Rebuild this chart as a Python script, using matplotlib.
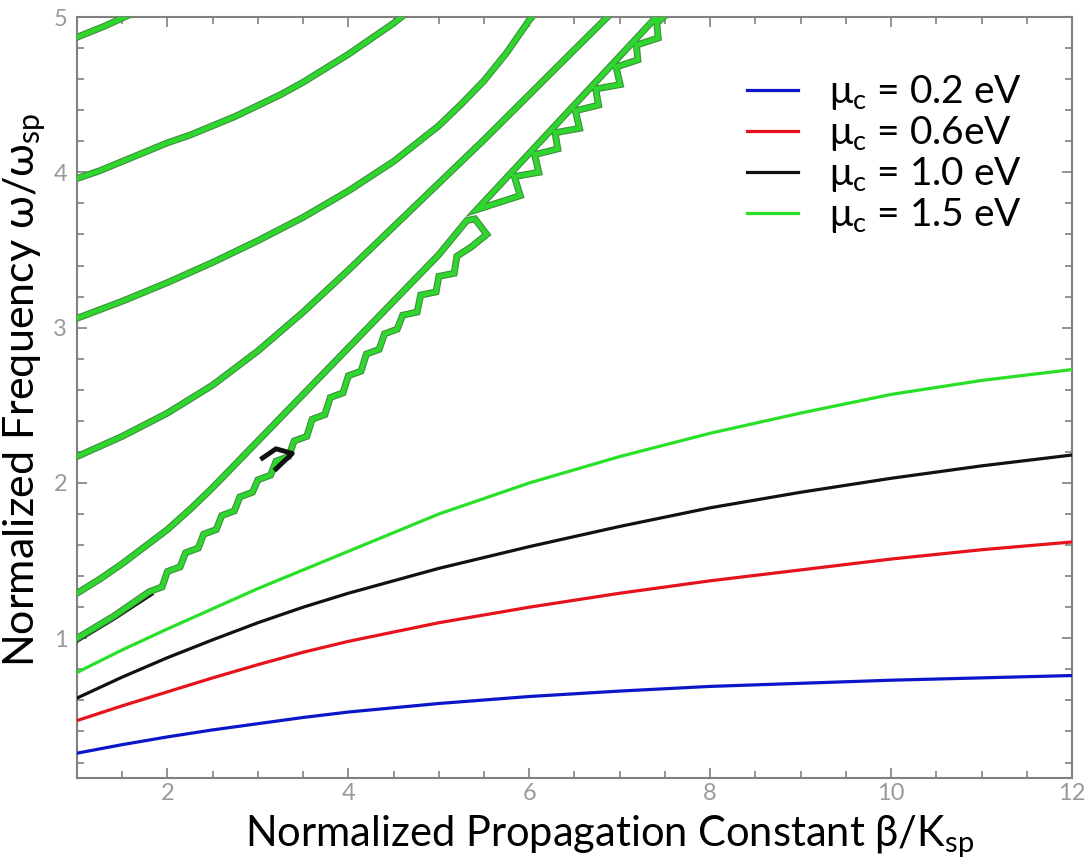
import numpy as np
import matplotlib
matplotlib.use("Agg")
import matplotlib.pyplot as plt
from matplotlib.ticker import MultipleLocator

plt.rcParams['font.family'] = ['Lato', 'DejaVu Sans']
plt.rcParams['mathtext.fontset'] = 'custom'
plt.rcParams['mathtext.rm'] = 'Lato'

#%% data

# fundamental modes, one per chemical potential
beta = [1, 1.5, 2, 2.5, 3, 3.5, 4, 5, 6, 7, 8, 9, 10, 11, 12]
w_02 = [0.26, 0.315, 0.365, 0.41, 0.45, 0.49, 0.525, 0.58, 0.625, 0.66, 0.69, 0.71, 0.73, 0.745, 0.76]
w_06 = [0.47, 0.565, 0.655, 0.745, 0.83, 0.91, 0.98, 1.10, 1.20, 1.29, 1.37, 1.44, 1.51, 1.57, 1.62]
w_10 = [0.615, 0.75, 0.875, 0.99, 1.10, 1.20, 1.29, 1.45, 1.59, 1.72, 1.84, 1.94, 2.03, 2.11, 2.18]
w_15 = [0.78, 0.925, 1.06, 1.19, 1.32, 1.44, 1.56, 1.80, 2.00, 2.17, 2.32, 2.45, 2.57, 2.66, 2.73]
labels = [r'$\mathregular{\mu_c}$ = 0.2 eV', r'$\mathregular{\mu_c}$ = 0.6eV',
          r'$\mathregular{\mu_c}$ = 1.0 eV', r'$\mathregular{\mu_c}$ = 1.5 eV']

# higher order modes (mu_c = 1.5 eV)
g1_x = [1, 1.3, 1.6]
g1_y = [4.87, 4.94, 5.02]
g2_x = [1, 1.25, 1.5, 1.75, 2, 2.25, 2.5, 2.75, 3, 3.25, 3.5, 3.75, 4, 4.25, 4.5, 4.65]
g2_y = [3.96, 4.01, 4.07, 4.13, 4.19, 4.24, 4.30, 4.36, 4.43, 4.50, 4.58, 4.67, 4.76, 4.86, 4.96, 5.03]
g3_x = [1, 1.5, 2, 2.5, 3, 3.5, 4, 4.5, 5, 5.25, 5.5, 5.75, 6, 6.1]
g3_y = [3.06, 3.17, 3.29, 3.42, 3.56, 3.71, 3.88, 4.07, 4.30, 4.44, 4.59, 4.77, 4.98, 5.05]
g4_x = [1, 1.5, 2, 2.5, 3, 3.5, 4, 4.5, 5, 5.5, 6, 6.5, 6.95]
g4_y = [2.17, 2.30, 2.45, 2.63, 2.85, 3.10, 3.37, 3.65, 3.93, 4.21, 4.50, 4.79, 5.05]

# noisy contour loop: jagged lower edge (from 1.0) and upper edge (from 1.29)
loop_x = [1.00, 1.40, 1.80, 1.94, 2.00, 2.14, 2.20, 2.34, 2.40, 2.54, 2.60, 2.74,
          2.80, 2.94, 3.00, 3.14, 3.20, 3.34, 3.40, 3.54, 3.60, 3.74, 3.80, 3.94,
          4.00, 4.14, 4.20, 4.34, 4.40, 4.54, 4.60, 4.76, 4.80, 4.97, 5.00, 5.17,
          5.20, 5.36, 5.53, 5.40, 5.31, 5.00, 4.50, 4.00, 3.50, 3.00, 2.75, 2.50,
          2.25, 2.00, 1.75, 1.50, 1.25, 1.00]
loop_y = [1.00, 1.14, 1.30, 1.33, 1.43, 1.46, 1.55, 1.58, 1.67, 1.70, 1.79, 1.82,
          1.91, 1.94, 2.02, 2.05, 2.14, 2.17, 2.27, 2.30, 2.41, 2.44, 2.55, 2.58,
          2.69, 2.72, 2.83, 2.86, 2.96, 2.99, 3.08, 3.10, 3.21, 3.23, 3.33, 3.35,
          3.46, 3.52, 3.60, 3.70, 3.69, 3.47, 3.17, 2.87, 2.57, 2.27, 2.12, 1.97,
          1.83, 1.70, 1.59, 1.48, 1.38, 1.29]

# saw-tooth band above the gap
band_x = [7.50, 5.42, 5.90, 5.835, 6.105, 6.06, 6.315, 6.285, 6.555, 6.51, 6.765,
          6.735, 7.005, 6.96, 7.20, 7.185, 7.425, 7.41, 7.54]
band_y = [5.06, 3.76, 3.85, 3.973, 4.00, 4.114, 4.151, 4.255, 4.283, 4.396, 4.433,
          4.537, 4.565, 4.678, 4.724, 4.819, 4.865, 4.96, 5.03]

# black pieces of the mu_c = 1.0 eV contour showing through
blk1_x = [1.00, 1.40, 1.82]
blk1_y = [0.985, 1.125, 1.285]
blk2_x = [3.05, 3.20, 3.38, 3.20]
blk2_y = [2.16, 2.22, 2.19, 2.09]

#%% figure

fig = plt.figure(figsize=(10.86, 8.60), dpi=100)
ax = fig.add_axes([0.0709, 0.0953, 0.9162, 0.8849])

cols = ['#0b16c9', '#e6121c', '#111111', '#27e027']
for w, c, lab in zip([w_02, w_06, w_10, w_15], cols, labels):
    ax.plot(beta, w, color=c, lw=2.3, label=lab, zorder=3)

ax.plot(blk1_x, blk1_y, color='#111111', lw=3.2, zorder=3)

edge, fill = '#3f8f3f', '#2ed62e'
for xs, ys in [(g1_x, g1_y), (g2_x, g2_y), (g3_x, g3_y), (g4_x, g4_y),
               (loop_x, loop_y), (band_x, band_y)]:
    ax.plot(xs, ys, color=edge, lw=5.0, solid_joinstyle='miter', zorder=4)
    ax.plot(xs, ys, color=fill, lw=3.4, solid_joinstyle='miter', zorder=5)

ax.plot(blk2_x, blk2_y, color='#111111', lw=3.5, zorder=6)

ax.set_xlim(1, 12)
ax.set_ylim(0.1, 5)
ax.xaxis.set_major_locator(MultipleLocator(2))
ax.xaxis.set_minor_locator(MultipleLocator(0.5))
ax.yaxis.set_major_locator(MultipleLocator(1))
ax.yaxis.set_minor_locator(MultipleLocator(0.2))
ax.tick_params(which='both', direction='in', top=True, right=True,
               color='#808080', labelcolor='#9a9a9a', labelsize=17, width=1.2)
ax.tick_params(which='major', length=7)
ax.tick_params(which='minor', length=5)
ax.tick_params(axis='y', pad=7)
for s in ax.spines.values():
    s.set_color('#808080')
    s.set_linewidth(1.5)

ax.set_xlabel(r'Normalized Propagation Constant β/K$_\mathregular{sp}$', fontsize=30)
ax.set_ylabel(r'Normalized Frequency ω/ω$_\mathregular{sp}$', fontsize=31)
ax.xaxis.set_label_coords(0.535, -0.046)
ax.yaxis.set_label_coords(-0.029, 0.51)

ax.legend(loc='upper right', bbox_to_anchor=(0.985, 0.972), frameon=False, fontsize=28,
          handlelength=1.3, handletextpad=0.8, labelspacing=0.05)

plt.savefig('out.png', dpi=100)
